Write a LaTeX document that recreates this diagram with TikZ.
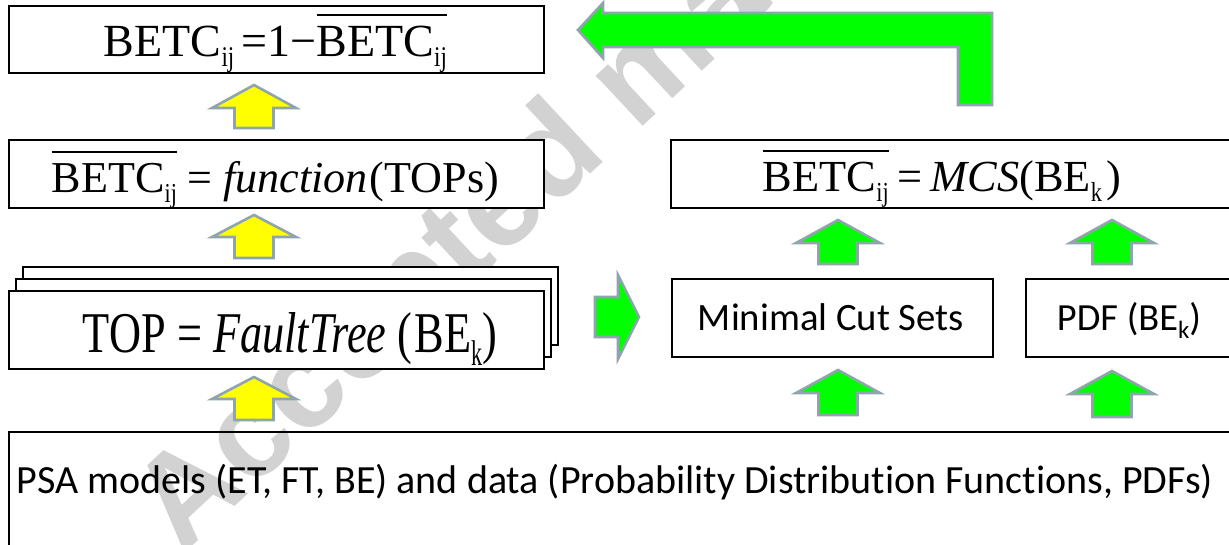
\documentclass[tikz,border=0pt]{standalone}
\usepackage{fontspec}
\setmainfont{Liberation Serif}
\newfontfamily\calib{Carlito}[Ligatures=NoCommon]
\newfontfamily\wmfont{Liberation Sans}
\usepackage{graphicx}

\definecolor{arrline}{HTML}{8FA5AD}
\definecolor{agreen}{HTML}{00FF00}
\definecolor{ayellow}{HTML}{FFFF00}
\definecolor{wmgray}{HTML}{D2D2D2}

\tikzset{
  box/.style={draw=black, line width=1.8pt, inner sep=0pt, anchor=north west},
  wbox/.style={box, fill=white},
  blockarrow/.style={draw=arrline, line width=2.6pt, line join=miter},
  txt/.style={inner sep=0pt, anchor=base},
}

% lowered subscript
\newcommand{\lsub}[1]{\raisebox{-0.23em}{\scalebox{0.5}[0.62]{#1}}}
% overline over a text group
\newcommand{\ovl}[1]{\vbox{\hrule height 1.6pt\kern 9pt\hbox{#1}}}

% up block arrow: fill, centre x, tip y, head-base y, bottom y
\newcommand{\blkup}[5]{%
  \path[blockarrow, fill=#1] (#2,#3) -- (#2+42,#4) -- (#2+19.5,#4) -- (#2+19.5,#5)
    -- (#2-19.5,#5) -- (#2-19.5,#4) -- (#2-42,#4) -- cycle;}

\begin{document}
\begin{tikzpicture}[x=1pt, y=-1pt]
\useasboundingbox (0,0) rectangle (1229,544);
\clip (0,0) rectangle (1229,544);
\fill[white] (0,0) rectangle (1229,544);

% watermark
\node[anchor=base west, rotate=43, text=wmgray, inner sep=0pt,
      font=\wmfont\bfseries\fontsize{130}{130}\selectfont] (wm) at (182,556) {Accepted manuscript};

% left column
\node[wbox, minimum width=535pt, minimum height=67pt] (boxA) at (8,5) {};
\node[txt] (tA) at (275.5,56) {\resizebox{343pt}{!}{\fontsize{44}{44}\selectfont
  BETC\lsub{ij}\hspace{7pt}=1−\ovl{BETC\lsub{ij}}}};

\node[wbox, minimum width=535pt, minimum height=68pt] (boxB) at (8,139) {};
\node[txt] (tB) at (275.5,192) {\resizebox{447pt}{!}{\fontsize{41}{41}\selectfont
  \ovl{BETC\lsub{ij}}\hspace{10pt}=\hspace{10pt}\textit{function}\hspace{2pt}(TOPs)}};

% stack of fault-tree boxes
\node[wbox, minimum width=535pt, minimum height=78pt] (stack3) at (22,266) {};
\node[wbox, minimum width=535pt, minimum height=78pt] (stack2) at (15,278) {};
\node[wbox, minimum width=535pt, minimum height=78pt] (boxC) at (8,290) {};
\node[txt] (tC) at (290,352) {\scalebox{1}[1.3]{\resizebox{414pt}{!}{\fontsize{40}{40}\selectfont
  TOP = \textit{FaultTree} (\hspace{2pt}BE\lsub{k})}}};

% right column
\node[wbox, minimum width=580pt, minimum height=68pt] (boxM) at (670,139) {};
\node[txt] (tM) at (942,191) {\resizebox{358pt}{!}{\fontsize{42}{42}\selectfont
  \ovl{BETC\lsub{ij}}\hspace{8pt}=\hspace{8pt}\textit{MCS}(BE\lsub{k}\hspace{4pt})}};

\node[wbox, minimum width=321pt, minimum height=78pt] (boxMCS) at (671,278) {};
\node[txt] (tMCS) at (831,330) {\resizebox{266pt}{!}{\calib Minimal Cut Sets}};

\node[wbox, minimum width=240pt, minimum height=78pt] (boxPDF) at (1025,278) {};
\node[txt] (tPDF) at (1129,330) {\resizebox{144pt}{!}{\calib PDF (BE\raisebox{-0.22em}{\fontsize{6.5}{7}\selectfont k})}};

% bottom box (transparent)
\node[box, minimum width=1260pt, minimum height=140pt] (boxD) at (8,431) {};
\node[txt] (tD) at (615,493) {\resizebox{1196pt}{!}{\calib PSA models (ET, FT, BE) and data (Probability Distribution Functions, PDFs)}};

% yellow arrows
\blkup{ayellow}{254}{85}{108}{128}
\blkup{ayellow}{254}{215}{237}{258}
\blkup{ayellow}{254}{377}{399}{420}

% green up arrows
\blkup{agreen}{838}{220}{243}{264}
\blkup{agreen}{1112}{220}{243}{264}
\blkup{agreen}{838}{370}{393}{415}
\blkup{agreen}{1112}{371}{394}{417}

% green right arrow
\path[blockarrow, fill=agreen] (595,297) -- (618,297) -- (618,275) -- (639,317)
  -- (618,359) -- (618,337) -- (595,337) -- cycle;

% big L-shaped feedback arrow
\path[blockarrow, fill=agreen] (578,30) -- (603,3) -- (603,13) -- (992,13) -- (992,105)
  -- (958,105) -- (958,47) -- (603,47) -- (603,58) -- cycle;
\end{tikzpicture}
\end{document}
